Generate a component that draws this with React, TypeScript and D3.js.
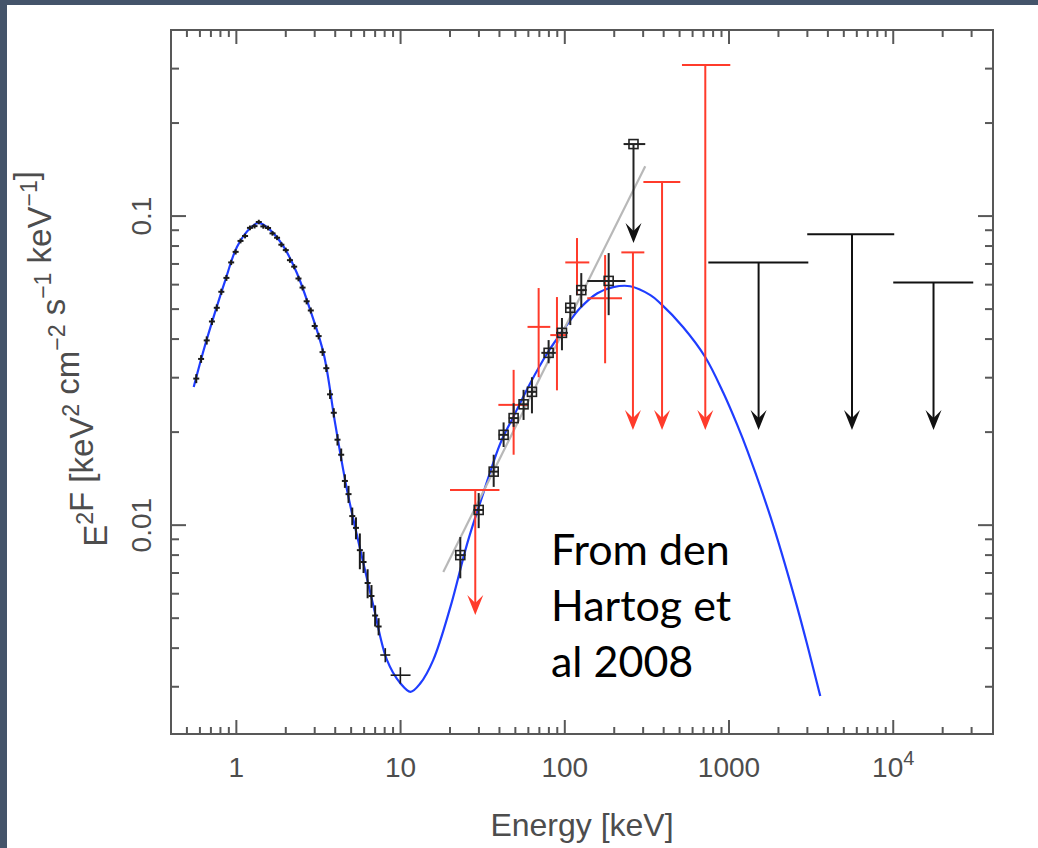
import React, { useEffect, useRef } from 'react';
import * as d3 from 'd3';

// blue model curve (keV, keV^2 cm^-2 s^-1 keV^-1)
const modelEnergy = [0.55, 0.632, 0.727, 0.857, 1.01, 1.217, 1.367, 1.61, 1.94, 2.34, 2.82, 3.40, 4.01, 4.72, 5.69, 6.85, 8.27, 9.97, 11.5, 13.2, 15.8, 20.1, 25.5, 31.9, 40.5, 48.6, 61.6, 78.2, 97.9, 124, 158, 197, 250, 332, 381, 526, 716, 923, 1122, 1291, 1783, 2531, 3038, 3594];
const modelFlux = [0.0280, 0.0368, 0.0472, 0.0621, 0.0796, 0.0915, 0.0950, 0.0901, 0.0796, 0.0653, 0.0496, 0.0359, 0.0211, 0.0130, 0.00830, 0.00544, 0.00366, 0.00308, 0.00289, 0.00308, 0.00366, 0.00543, 0.00875, 0.0127, 0.0184, 0.0224, 0.0288, 0.0360, 0.0428, 0.0504, 0.0563, 0.0589, 0.0593, 0.0555, 0.0523, 0.0437, 0.0350, 0.0268, 0.0211, 0.01746, 0.01069, 0.00572, 0.00398, 0.0028];

// low energy spectrum (small black crosses)
const lowEnergy = [0.57, 0.61, 0.66, 0.71, 0.76, 0.81, 0.87, 0.93, 0.99, 1.06, 1.13, 1.21, 1.29, 1.37, 1.46, 1.56, 1.66, 1.77, 1.88, 2.0, 2.12, 2.25, 2.39, 2.53, 2.68, 2.84, 3.0, 3.17, 3.35, 3.53, 3.72, 3.92, 4.13, 4.35, 4.58, 4.82, 5.08, 5.35, 5.65, 5.95, 6.3, 6.65, 7.0, 7.35];
const lowFlux = [0.0298, 0.0345, 0.0396, 0.0456, 0.0505, 0.0569, 0.0631, 0.0708, 0.0766, 0.0831, 0.0862, 0.0916, 0.0928, 0.0957, 0.0926, 0.0915, 0.0879, 0.0851, 0.0808, 0.0776, 0.0720, 0.0686, 0.0628, 0.0587, 0.0530, 0.0495, 0.0441, 0.0409, 0.0363, 0.0322, 0.0265, 0.0231, 0.0189, 0.0169, 0.0139, 0.0126, 0.0107, 0.0098, 0.0083, 0.0076, 0.0065, 0.0059, 0.0051, 0.0047];
const lowFluxErr = [0.0010, 0.0010, 0.0012, 0.0012, 0.0013, 0.0013, 0.0014, 0.0014, 0.0015, 0.0015, 0.0015, 0.0016, 0.0016, 0.0016, 0.0016, 0.0016, 0.0015, 0.0015, 0.0015, 0.0014, 0.0014, 0.0013, 0.0013, 0.0012, 0.0012, 0.0011, 0.0011, 0.0010, 0.0010, 0.0009, 0.0009, 0.0008, 0.0008, 0.0008, 0.0007, 0.0008, 0.0007, 0.0008, 0.0011, 0.0006, 0.0007, 0.0005, 0.0004, 0.0003];

// two wide bins near 10 keV
const binEnergy = [8.07, 9.97];
const binEnergyLo = [7.52, 8.7];
const binEnergyHi = [8.66, 11.5];
const binFlux = [0.0038, 0.00327];
const binFluxErr = [0.0002, 0.0002];

// hard X-ray points with square markers
const isgriEnergy = [23.1, 29.9, 36.9, 42.4, 48.8, 56.1, 63.1, 79.7, 96.1, 108, 126, 185];
const isgriEnergyLo = [21.4, 27.8, 34.4, 39.6, 45.6, 52.4, 59.0, 72.0, 88.5, 100.5, 117, 137];
const isgriEnergyHi = [24.9, 32.2, 39.6, 45.4, 52.2, 60.1, 67.5, 88.2, 104.4, 116, 136, 234];
const isgriFlux = [0.0080, 0.0112, 0.0149, 0.0196, 0.0222, 0.0246, 0.0270, 0.0361, 0.0419, 0.0505, 0.0576, 0.0617];
const isgriFluxLo = [0.00673, 0.00978, 0.0133, 0.0179, 0.0208, 0.0219, 0.0230, 0.0334, 0.0368, 0.0444, 0.0507, 0.0478];
const isgriFluxHi = [0.00915, 0.0127, 0.0169, 0.0215, 0.0248, 0.0274, 0.0301, 0.0397, 0.0468, 0.0555, 0.0654, 0.0759];

// square-marker upper limit
const isgriUlEnergy = [262];
const isgriUlEnergyLo = [228];
const isgriUlEnergyHi = [309];
const isgriUlFlux = [0.171];
const isgriUlTip = [0.0818];

// red points
const spiEnergy = [48.8, 69.3, 89.6, 118.7, 176];
const spiEnergyLo = [39.4, 59.3, 81.6, 100.7, 137];
const spiEnergyHi = [59.8, 81.6, 103, 141, 223];
const spiFlux = [0.0245, 0.0438, 0.0412, 0.0708, 0.0542];
const spiFluxLo = [0.0169, 0.0301, 0.0273, 0.0555, 0.0334];
const spiFluxHi = [0.0318, 0.0585, 0.0547, 0.0849, 0.0748];

// red upper limits
const spiUlEnergy = [28.5, 260, 391, 717];
const spiUlEnergyLo = [20.0, 221, 301, 517];
const spiUlEnergyHi = [40.0, 305, 505, 1018];
const spiUlFlux = [0.0130, 0.0763, 0.129, 0.308];
const spiUlTip = [0.00512, 0.0203, 0.0203, 0.0203];

// black MeV upper limits
const mevUlEnergy = [1514, 5607, 17590];
const mevUlEnergyLo = [748, 2994, 10000];
const mevUlEnergyHi = [3040, 10140, 30700];
const mevUlFlux = [0.0708, 0.0874, 0.0610];
const mevUlTip = [0.0203, 0.0203, 0.0203];

// grey power law
const powerEnergy = [18.2, 309];
const powerFlux = [0.00705, 0.145];

const xTickLabels = ['1', '10', '100', '1000', '10^4'];
const xTickValues = [1, 10, 100, 1000, 10000];
const yTickLabels = ['0.01', '0.1'];
const yTickValues = [0.01, 0.1];

const noteLines = ['From den', 'Hartog et', 'al 2008'];

const W = 1038;
const H = 848;

const App = () => {
  const svgRef = useRef<SVGSVGElement>(null);

  useEffect(() => {
    const svg = d3.select(svgRef.current);
    svg.selectAll('*').remove();
    svg.attr('width', W).attr('height', H);

    svg.append('rect').attr('width', W).attr('height', H).attr('fill', '#44546a');
    svg.append('rect').attr('x', 7).attr('y', 5).attr('width', W - 7).attr('height', H - 5).attr('fill', '#ffffff');

    const left = 171, right = 993, top = 30, bottom = 734;
    const x = d3.scaleLog().domain([0.4, 4.05e4]).range([left, right]);
    const y = d3.scaleLog().domain([0.00211, 0.4]).range([bottom, top]);

    const axisColor = '#585858';
    const textColor = '#4d4d4d';
    const textFont = "'Liberation Sans', Arial, sans-serif";

    // frame
    svg.append('rect')
      .attr('x', left).attr('y', top)
      .attr('width', right - left).attr('height', bottom - top)
      .attr('fill', 'none').attr('stroke', axisColor).attr('stroke-width', 2);

    const isDecade = (v: number) => Math.abs(Math.log10(v) - Math.round(Math.log10(v))) < 1e-6;

    const xt = x.ticks().filter(v => x(v) > left + 1 && x(v) < right - 1);
    const yt = y.ticks().filter(v => y(v) > top + 1 && y(v) < bottom - 1);

    const ticks = svg.append('g').attr('stroke', axisColor).attr('stroke-width', 2);
    xt.forEach(v => {
      const len = isDecade(v) ? 14 : 7;
      ticks.append('line').attr('x1', x(v)).attr('x2', x(v)).attr('y1', bottom).attr('y2', bottom - len);
      ticks.append('line').attr('x1', x(v)).attr('x2', x(v)).attr('y1', top).attr('y2', top + len);
    });
    yt.forEach(v => {
      const len = isDecade(v) ? 15 : 8;
      ticks.append('line').attr('x1', left).attr('x2', left + len).attr('y1', y(v)).attr('y2', y(v));
      ticks.append('line').attr('x1', right).attr('x2', right - len).attr('y1', y(v)).attr('y2', y(v));
    });

    // x tick labels
    xTickValues.forEach((v, i) => {
      const label = xTickLabels[i];
      const t = svg.append('text')
        .attr('x', x(v)).attr('y', 777)
        .attr('text-anchor', 'middle')
        .attr('font-family', textFont).attr('font-size', 28)
        .attr('fill', textColor);
      if (label.includes('^')) {
        const [base, exp] = label.split('^');
        t.append('tspan').text(base);
        t.append('tspan').attr('dy', -12).attr('font-size', 20).text(exp);
      } else {
        t.text(label);
      }
    });

    // y tick labels
    yTickValues.forEach((v, i) => {
      svg.append('text')
        .attr('transform', `translate(151, ${y(v)}) rotate(-90)`)
        .attr('text-anchor', 'middle')
        .attr('font-family', textFont).attr('font-size', 28)
        .attr('fill', textColor)
        .text(yTickLabels[i]);
    });

    // axis titles
    svg.append('text')
      .attr('x', (left + right) / 2).attr('y', 836)
      .attr('text-anchor', 'middle')
      .attr('font-family', textFont).attr('font-size', 32)
      .attr('fill', textColor)
      .text('Energy [keV]');

    const ylab = svg.append('text')
      .attr('transform', 'translate(107, 359) rotate(-90)')
      .attr('text-anchor', 'middle')
      .attr('font-family', textFont).attr('font-size', 33)
      .attr('fill', textColor);
    const parts: [string, string][] = [['E', '2'], ['F [keV', '2'], [' cm', '\u22122'], [' s', '\u22121'], [' keV', '\u22121'], [']', '']];
    parts.forEach(([main, sup]) => {
      ylab.append('tspan').text(main);
      if (sup) {
        ylab.append('tspan').attr('dy', -14).attr('font-size', 23).text(sup);
        ylab.append('tspan').attr('dy', 14).text('');
      }
    });

    // blue model
    const line = d3.line<number>()
      .x((_, i) => x(modelEnergy[i]))
      .y(d => y(d))
      .curve(d3.curveCatmullRom.alpha(0.5));
    svg.append('path')
      .datum(modelFlux)
      .attr('d', line)
      .attr('fill', 'none')
      .attr('stroke', '#1f3dff')
      .attr('stroke-width', 2.2);

    // low energy crosses
    const low = svg.append('g').attr('stroke', '#1a1a1a').attr('stroke-width', 2);
    lowEnergy.forEach((e, i) => {
      const cx = x(e);
      low.append('line').attr('x1', cx).attr('x2', cx)
        .attr('y1', y(lowFlux[i] - lowFluxErr[i])).attr('y2', y(lowFlux[i] + lowFluxErr[i]));
      low.append('line').attr('x1', cx - 3).attr('x2', cx + 3)
        .attr('y1', y(lowFlux[i])).attr('y2', y(lowFlux[i]));
    });
    binEnergy.forEach((e, i) => {
      low.append('line').attr('x1', x(e)).attr('x2', x(e))
        .attr('y1', y(binFlux[i] - binFluxErr[i])).attr('y2', y(binFlux[i] + binFluxErr[i]))
        .attr('stroke-width', 1.6);
      low.append('line').attr('x1', x(binEnergyLo[i])).attr('x2', x(binEnergyHi[i]))
        .attr('y1', y(binFlux[i])).attr('y2', y(binFlux[i]))
        .attr('stroke-width', 1.6);
    });

    // grey power law
    svg.append('line')
      .attr('x1', x(powerEnergy[0])).attr('y1', y(powerFlux[0]))
      .attr('x2', x(powerEnergy[1])).attr('y2', y(powerFlux[1]))
      .attr('stroke', '#b8b8b8').attr('stroke-width', 2.2);

    const arrowHead = (g: d3.Selection<SVGGElement, unknown, null, undefined>, cx: number, cy: number, color: string) => {
      g.append('path')
        .attr('d', 'M0,0 L-8,-20 L0,-12 L8,-20 Z')
        .attr('transform', `translate(${cx},${cy})`)
        .attr('fill', color).attr('stroke', 'none');
    };

    const red = '#ff3b2b';
    const redG = svg.append('g').attr('stroke', red).attr('stroke-width', 2);
    spiEnergy.forEach((e, i) => {
      redG.append('line').attr('x1', x(e)).attr('x2', x(e))
        .attr('y1', y(spiFluxLo[i])).attr('y2', y(spiFluxHi[i]));
      redG.append('line').attr('x1', x(spiEnergyLo[i])).attr('x2', x(spiEnergyHi[i]))
        .attr('y1', y(spiFlux[i])).attr('y2', y(spiFlux[i]));
    });
    spiUlEnergy.forEach((e, i) => {
      redG.append('line').attr('x1', x(e)).attr('x2', x(e))
        .attr('y1', y(spiUlFlux[i])).attr('y2', y(spiUlTip[i]) - 8);
      redG.append('line').attr('x1', x(spiUlEnergyLo[i])).attr('x2', x(spiUlEnergyHi[i]))
        .attr('y1', y(spiUlFlux[i])).attr('y2', y(spiUlFlux[i]));
      arrowHead(redG, x(e), y(spiUlTip[i]), red);
    });

    // squares
    const sq = svg.append('g').attr('stroke', '#222').attr('stroke-width', 2).attr('fill', 'none');
    isgriEnergy.forEach((e, i) => {
      const cx = x(e), cy = y(isgriFlux[i]);
      sq.append('line').attr('x1', cx).attr('x2', cx).attr('y1', y(isgriFluxLo[i])).attr('y2', y(isgriFluxHi[i]));
      sq.append('line').attr('x1', x(isgriEnergyLo[i])).attr('x2', x(isgriEnergyHi[i])).attr('y1', cy).attr('y2', cy);
      sq.append('rect').attr('x', cx - 4.5).attr('y', cy - 4.5).attr('width', 9).attr('height', 9).attr('stroke-width', 1.6);
    });
    isgriUlEnergy.forEach((e, i) => {
      const cx = x(e), cy = y(isgriUlFlux[i]);
      sq.append('line').attr('x1', cx).attr('x2', cx).attr('y1', cy).attr('y2', y(isgriUlTip[i]) - 8);
      sq.append('line').attr('x1', x(isgriUlEnergyLo[i])).attr('x2', x(isgriUlEnergyHi[i])).attr('y1', cy).attr('y2', cy);
      sq.append('rect').attr('x', cx - 4.5).attr('y', cy - 4.5).attr('width', 9).attr('height', 9).attr('stroke-width', 1.6);
      arrowHead(sq, cx, y(isgriUlTip[i]), '#111');
    });

    // MeV upper limits
    const mev = svg.append('g').attr('stroke', '#111').attr('stroke-width', 2);
    mevUlEnergy.forEach((e, i) => {
      mev.append('line').attr('x1', x(e)).attr('x2', x(e))
        .attr('y1', y(mevUlFlux[i])).attr('y2', y(mevUlTip[i]) - 8);
      mev.append('line').attr('x1', x(mevUlEnergyLo[i])).attr('x2', x(mevUlEnergyHi[i]))
        .attr('y1', y(mevUlFlux[i])).attr('y2', y(mevUlFlux[i]));
      arrowHead(mev, x(e), y(mevUlTip[i]), '#111');
    });

    // note
    noteLines.forEach((s, i) => {
      svg.append('text')
        .attr('x', 551).attr('y', 565 + i * 56)
        .attr('font-family', 'Lato, sans-serif').attr('font-size', 43)
        .attr('fill', '#000')
        .text(s);
    });
  }, []);

  return <svg ref={svgRef} style={{ position: 'absolute', left: 0, top: 0, display: 'block' }}></svg>;
};

export default App;
